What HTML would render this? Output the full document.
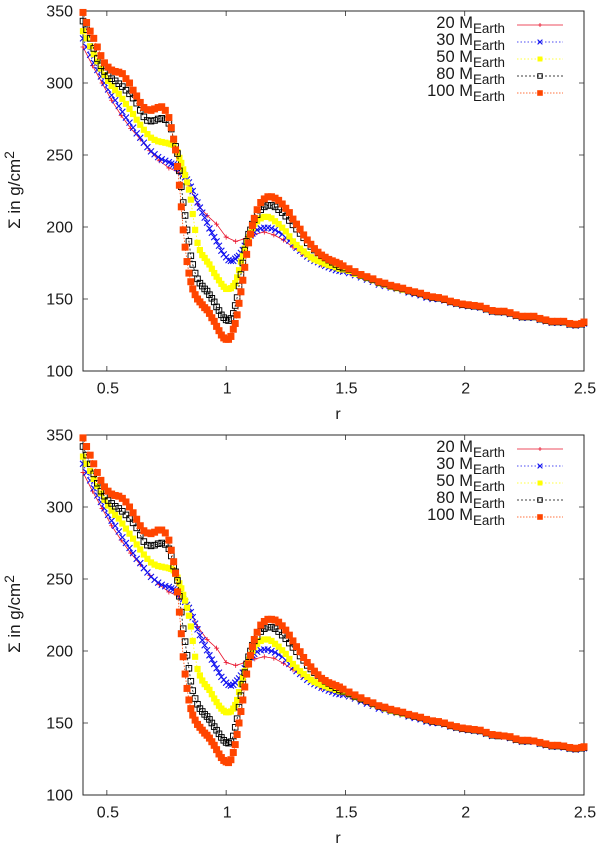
<!DOCTYPE html>
<html lang="en">
<head>
<meta charset="utf-8">
<title>Surface density profiles</title>
<style>
html,body{margin:0;padding:0;background:#fff;}
svg{display:block;font-family:"Liberation Sans",sans-serif;fill:#1a1a1a;}
</style>
</head>
<body>
<svg id="chart" xmlns="http://www.w3.org/2000/svg" width="600" height="845" viewBox="0 0 600 845"></svg>
<script>
const xTickValues = [0.5, 1, 1.5, 2, 2.5];
const yTickValues = [100, 150, 200, 250, 300, 350];
const seriesLabels = ["20", "30", "50", "80", "100"];

const radiusGrid = [
0.40,0.415,0.43,0.445,0.46,0.475,0.49,0.505,0.52,0.535,0.55,0.565,0.58,0.595,0.61,0.625,0.64,0.655,0.67,0.685,0.70,0.715,0.73,0.745,0.76,
0.77,
0.78,0.788,0.796,0.804,0.812,0.82,0.828,0.836,0.844,0.852,0.86,
0.87,0.88,0.89,0.90,0.91,0.92,0.93,0.94,0.95,0.96,0.97,0.98,0.99,1.0,1.01,1.02,1.03,
1.038,1.046,1.054,1.062,1.07,1.078,1.086,1.094,1.102,1.11,1.118,
1.13,1.145,1.16,1.175,1.19,1.205,1.22,1.235,1.25,1.265,1.28,1.295,1.31,1.325,1.34,1.355,1.37,1.385,1.40,1.415,1.43,1.445,1.46,1.475,1.49,
1.515,1.54,1.565,1.59,1.615,1.64,1.665,1.69,1.715,1.74,1.765,1.79,1.815,1.84,1.865,1.89,1.915,1.94,1.965,1.99,2.015,2.04,2.065,2.09,2.115,2.14,2.165,2.19,2.215,2.24,2.265,2.29,2.315,2.34,2.365,2.39,2.415,2.44,2.465,2.49,2.5];

const radiusGrid20 = [
0.40,0.44,0.48,0.52,0.56,0.60,0.64,0.68,0.72,0.76,
0.80,0.84,0.88,0.92,0.96,1.0,1.04,1.08,1.12,1.16,
1.20,1.24,1.28,1.32,1.36,1.40,1.44,1.48,1.52,1.56,
1.60,1.64,1.68,1.72,1.76,1.80,1.84,1.88,1.92,1.96,
2.0,2.04,2.08,2.12,2.16,2.2,2.24,2.28,2.32,2.36,
2.4,2.44,2.48,2.5];

const topM20 = [
325,312,300,288,277.5,268.5,261,253,246,241,
238,230,216,208,202,193,190,192,195,196.5,
194.5,191,186,181,177,173.5,171,169,167.5,166,
164,161.5,160,158,156,154.5,152,151,149.5,147,
146,145.5,143.5,142,141,140,138,137.5,136,134.5,
134.5,133,132.5,134];

const topM30 = [
331,325,319.5,314,309,304.5,300,295.5,291.5,288,284,280,276,272.5,269,265,262,258.5,255.5,252.5,250.5,248.5,247,246,245,
244,
243.5,242.5,241,240,238.5,236.5,234.5,233,231,228,225,
221,217,213.5,210,206.5,203,199,196,193,190,187,183.5,181,179,177,176.5,176.5,
178,179,180,182,184,187,190,192,194,195.5,196.5,
198,199,199.5,199.5,199,198,196.5,195,192.5,190.5,188,185.5,183.5,181.5,179.5,178,176.5,175.5,174,173,172,171,170,169.5,169,
168,166.5,165,163.5,162,160,159,158,157,156,154.5,153.5,152.5,151,150,150,149,147.5,146.5,145.5,145,144.5,144,142.5,141,141,140.5,139.5,138,137,137,137,135.5,134.5,133.5,133.5,133.5,132,131.5,132,133];

const topM50 = [
336,331,325.5,320,315,310,305.5,301.5,298,295,292.5,289,285.5,282,278.5,274.5,271,267.5,264.5,262,260.5,259.5,259,258.5,258,
257.5,
257,254,252,248,244.5,240,236,231,226,219,209,
198,189,184,180.5,178.5,176,174,171,168,165.5,163,160.5,158.5,157,157,157.5,159,
161,165,170,176,180,185,189.5,193,196,199,202,
204,206,207,207,206,204,202,199.5,197,193.5,190,187.5,185,183,181,179,177.5,176.5,175.5,174.5,173.5,173,172,171,170.5,
169.5,167.5,166,164.5,163,161,160,158.5,157.5,156.5,155.5,154.5,153.5,152,151,150.5,149.5,148,147,146,145.5,145,144.5,143,141.5,141,141,140,138.5,137.5,137.5,137.5,136,135,134,134,134,132.5,132,132.5,133.5];

const topM80 = [
343,337,331,324,317,312,308,305,303,301.5,299.5,297.5,295,292.5,289.5,286,281,276.5,274,273.5,274,275,275.5,274.5,272,
268,
261,256,251,239,228,217,208,198,190,180,174,
168,164,161,159,157,155.5,153,150.5,148,144.5,142,139,137,135.5,135,136.5,140,
145.5,151,159,167,175,184,190,195,198,202,205,
208.5,212,214,215,215,214,212,210,207.5,204.5,201.5,198.5,195.5,192.5,189,186.5,184,182,180,178.5,177,175.5,174,172.5,171.5,
170.5,168.5,166.5,165,163.5,161.5,160.5,159,158,157,155.5,154.5,153.5,152,151,150.5,149.5,148,147,146,145.5,145,144.5,143,141.5,141,141,140,138.5,137.5,137.5,137.5,136,135,134,134,134,132.5,132,132.5,133.5];

const topM100 = [
349,342,336,331,325,319,314,311,309,308,307.5,306.5,303,300,295,291,286.5,283,281.5,281,282,283,283.5,281,276,
269,
261,253.5,242,229,214,198,186,176,168,162,157,
153,150,148,146,144,142.5,140,137,134.5,131,128,125,123,122,122,124,129,
133,139,147,155,163,172,181,189,195,201,206,
212,217,219.5,221,221,220,218.5,216,213,210,205.5,202,198.5,194.5,191,188,185,182.5,180.5,179,177.5,176.5,175.5,174.5,173,
171,169,167,165.5,164,162,161,159.5,158.5,157.5,156,155,154,152.5,151.5,151,150,148.5,147.5,146.5,146,145.5,145,143.5,142,141.5,141.5,140.5,139,138,138,138,136.5,135.5,134.5,134.5,134.5,133,132.5,133,134];

const bottomM20 = [
324,311,299,287,277,268,260,252.5,246,241,
238,231,217,208,202,192,190,192,194.5,196,
195,191.5,187,182,178,174,171.5,170,168,166.5,
164.5,162.5,160.5,158.5,156.5,155,152.5,151.5,150,147.5,
146.5,145.5,144,142,141,140,138.5,137.5,136,134.5,
134.5,133,132,133.5];

const bottomM30 = [
330,324,318.5,313,308,303.5,299,294.5,290.5,287,283,279,275,271.5,268,264,261,257.5,254.5,251.5,249.5,247.5,246,245,244.5,
243.5,
243,242,241,239.5,238,236,234,232,230,227,223.5,
219,215,211,207.5,204,200.5,197,194,191,188,185,182,180,178,176.5,176,176.5,
178,179.5,181,183,185,188,191,193.5,195.5,197,198,
199.5,200.5,201,201,200,199,197.5,196,193.5,191,188.5,186,184,182,180,178.5,177,176,174.5,173.5,172.5,171.5,170.5,170,169.5,
168.5,167,165,163.5,162,160,159,158,157,156,154.5,153.5,152.5,151,150,150,149,147.5,146.5,145.5,145,144.5,144,142.5,141,141,140.5,139.5,138,137,137,137,135.5,134.5,133.5,133.5,133,132,131.5,132,132.5];

const bottomM50 = [
335,330,325,319.5,314.5,309.5,305,301,297.5,294.5,292,288.5,285,281.5,278,274,270.5,267,264,261.5,260,259,258.5,258,257.5,
257,
256,253.5,251,247,243.5,239,235,230,224.5,217,207,
196,187.5,183,179.5,177,175,173,170,167,164.5,162,160,158.5,157.5,157.5,158,160,
162.5,166,171.5,177,181.5,186,190.5,194,197,200,203,
205,207,208,208,207,205,203,200.5,198,194.5,191,188.5,186,184,182,180,178.5,177.5,176.5,175.5,174.5,174,173,172,171.5,
170,168,166.5,165,163,161.5,160,158.5,157.5,156.5,155.5,154.5,153.5,152,151,150.5,149.5,148,147,146,145.5,145,144.5,143,141.5,141,141,140,138.5,137.5,137.5,137.5,136,135,134,134,133.5,132.5,132,132.5,133];

const bottomM80 = [
342,336,330,323,316.5,311,307.5,304.5,302.5,300.5,299,297,294.5,292,289,285.5,280.5,276,273.5,273,273.5,274.5,275,274,271,
266,
259,255,249,238,227,215.5,206.5,197,188,179,172.5,
167,163,160,158,156,154.5,152.5,150,147.5,145,142.5,140,138,136.5,136,137,141,
147,153,161,169,177,185,191,196,200,204,207,
210,213.5,215.5,216.5,216.5,215.5,213.5,211,208.5,205.5,202.5,199.5,196.5,193.5,190,187.5,185,183,181,179,177.5,176,174.5,173,172,
170.5,168.5,166.5,165,163.5,161.5,160.5,159,158,157,155.5,154.5,153.5,152,151,150.5,149.5,148,147,146,145.5,145,144.5,143,141.5,141,141,140,138.5,137.5,137.5,137.5,136,135,134,134,133.5,132.5,132,132.5,133];

const bottomM100 = [
348,342,336,330,324,318.5,314,311,309,308,307.5,306,303.5,300,296,291.5,287,283.5,282,281.5,282.5,284,284,282,277,
270,
262,254,241,227,212,196,184,174,166,160,155.5,
152,149,147,145,143,141.5,139.5,137,134.5,131.5,128.5,126,124,123,122.5,124.5,129.5,
135,142,150,158,166,175,184,191,197,203,208,
213,218,220.5,222,222,221.5,220,217.5,214.5,211,207,203,199.5,195.5,192,189,186,183.5,181,179.5,178,177,176,175,173.5,
171.5,169.5,167.5,165.5,164,162,161,159.5,158.5,157.5,156,155,154,152.5,151.5,151,150,148.5,147.5,146.5,146,145.5,145,143.5,142,141.5,141,140.5,139,138,138,137.5,136.5,135.5,134.5,134.5,134,133,132.5,133,133.5];

const SVGNS = "http://www.w3.org/2000/svg";
const svg = document.getElementById("chart");
const plotLeft = 83, plotRight = 584, plotHeight = 360;
const rMin = 0.4, rMax = 2.5, sMin = 100, sMax = 350;

function xScale(r) { return plotLeft + (r - rMin) / (rMax - rMin) * (plotRight - plotLeft); }
function yScale(s, top) { return top + (sMax - s) / (sMax - sMin) * plotHeight; }

function make(tag, parent, attrs) {
  const el = document.createElementNS(SVGNS, tag);
  for (const k in attrs) el.setAttribute(k, attrs[k]);
  parent.appendChild(el);
  return el;
}

const seriesStyles = [
  { color: "#e8102a", dash: "", kind: "plus" },
  { color: "#1010f0", dash: "1.5 2", kind: "cross" },
  { color: "#ffff00", dash: "1.5 2", kind: "dot" },
  { color: "#000000", dash: "2 2", kind: "open" },
  { color: "#ff4500", dash: "1.5 1.5", kind: "solid" }
];

function drawMarker(parent, kind, color, cx, cy, scale) {
  let el;
  if (kind === "plus") {
    const a = 2.5 * scale;
    el = make("path", parent, { d: `M${cx-a} ${cy}H${cx+a}M${cx} ${cy-a}V${cy+a}`, stroke: color, "stroke-width": 0.8, fill: "none" });
  } else if (kind === "cross") {
    const a = 3 * scale;
    el = make("path", parent, { d: `M${cx-a} ${cy-a}L${cx+a} ${cy+a}M${cx-a} ${cy+a}L${cx+a} ${cy-a}`, stroke: color, "stroke-width": 1.1, fill: "none" });
  } else if (kind === "dot") {
    const a = 3.1 * scale;
    el = make("rect", parent, { x: cx-a, y: cy-a, width: 2*a, height: 2*a, fill: color });
  } else if (kind === "open") {
    const a = 2.8 * scale;
    el = make("rect", parent, { x: cx-a, y: cy-a, width: 2*a, height: 2*a, fill: "none", stroke: color, "stroke-width": 0.95 });
  } else {
    const a = 3.5 * scale;
    el = make("rect", parent, { x: cx-a, y: cy-a, width: 2*a, height: 2*a, fill: color });
  }
  
  
}

function drawSeries(parent, top, radii, values, idx) {
  const style = seriesStyles[idx];
  const g = make("g", parent, {});
  
  
  const pts = radii.map((r, i) => xScale(r).toFixed(2) + "," + yScale(values[i], top).toFixed(2)).join(" ");
  const line = make("polyline", g, { points: pts, fill: "none", stroke: style.color, "stroke-width": 0.8 });
  if (style.dash) line.setAttribute("stroke-dasharray", style.dash);
  
  
  radii.forEach((r, i) => drawMarker(g, style.kind, style.color, xScale(r), yScale(values[i], top), 1));
}

function drawAxes(parent, top, xLabelBase, rLabelBase) {
  const bottom = top + plotHeight;
  const frame = make("rect", parent, { x: plotLeft, y: top, width: plotRight - plotLeft, height: plotHeight, fill: "none", stroke: "#2a2a2a", "stroke-width": 1 });
  
  
  xTickValues.forEach(v => {
    const x = xScale(v);
    const t = make("path", parent, { d: `M${x} ${bottom}v-5M${x} ${top}v5`, stroke: "#2a2a2a", "stroke-width": 0.8, fill: "none" });
    
    
    const l = make("text", parent, { x: x + 1, y: xLabelBase, "font-size": 16, "text-anchor": "middle" });
    l.textContent = String(v);
    
    
  });
  yTickValues.forEach(v => {
    const y = yScale(v, top);
    const t = make("path", parent, { d: `M${plotLeft} ${y}h5M${plotRight} ${y}h-5`, stroke: "#2a2a2a", "stroke-width": 0.8, fill: "none" });
    
    
    const l = make("text", parent, { x: 73, y: y + 5.5, "font-size": 16, "text-anchor": "end" });
    l.textContent = String(v);
    
    
  });
  const xt = make("text", parent, { x: 338, y: rLabelBase, "font-size": 16, "text-anchor": "middle" });
  xt.textContent = "r";
  
  
  const cy = top + 179;
  const yt = make("text", parent, { transform: `translate(20 ${cy}) rotate(-90)`, "font-size": 17, "text-anchor": "middle" });
  
  
  yt.appendChild(document.createTextNode("Σ in g/cm"));
  const sup = make("tspan", yt, { dy: -6, "font-size": 14 });
  sup.textContent = "2";
}

function drawLegend(parent, top) {
  const g = make("g", parent, {});
  
  
  seriesLabels.forEach((label, i) => {
    const rowY = top + 14 + i * 17;
    const row = make("g", g, {});
    
    
    const t = make("text", row, { x: 505, y: rowY + 3, "font-size": 16.5, "text-anchor": "end" });
    t.appendChild(document.createTextNode(label + " M"));
    const sub = make("tspan", t, { dy: 5, "font-size": 13.4 });
    sub.textContent = "Earth";
    const style = seriesStyles[i];
    const ln = make("line", row, { x1: 517, x2: 563, y1: rowY, y2: rowY, stroke: style.color, "stroke-width": 0.8 });
    if (style.dash) ln.setAttribute("stroke-dasharray", style.dash);
    drawMarker(row, style.kind, style.color, 540, rowY, 0.8);
  });
}

function drawPanel(name, top, xLabelBase, rLabelBase, valuesList) {
  const panel = make("g", svg, {});
  
  
  drawAxes(panel, top, xLabelBase, rLabelBase);
  valuesList.forEach((values, i) => {
    drawSeries(panel, top, i === 0 ? radiusGrid20 : radiusGrid, values, i);
  });
  drawLegend(panel, top);
}

drawPanel("top-panel", 11, 393.5, 419, [topM20, topM30, topM50, topM80, topM100]);
drawPanel("bottom-panel", 435, 817.5, 843, [bottomM20, bottomM30, bottomM50, bottomM80, bottomM100]);
</script>
</body>
</html>
